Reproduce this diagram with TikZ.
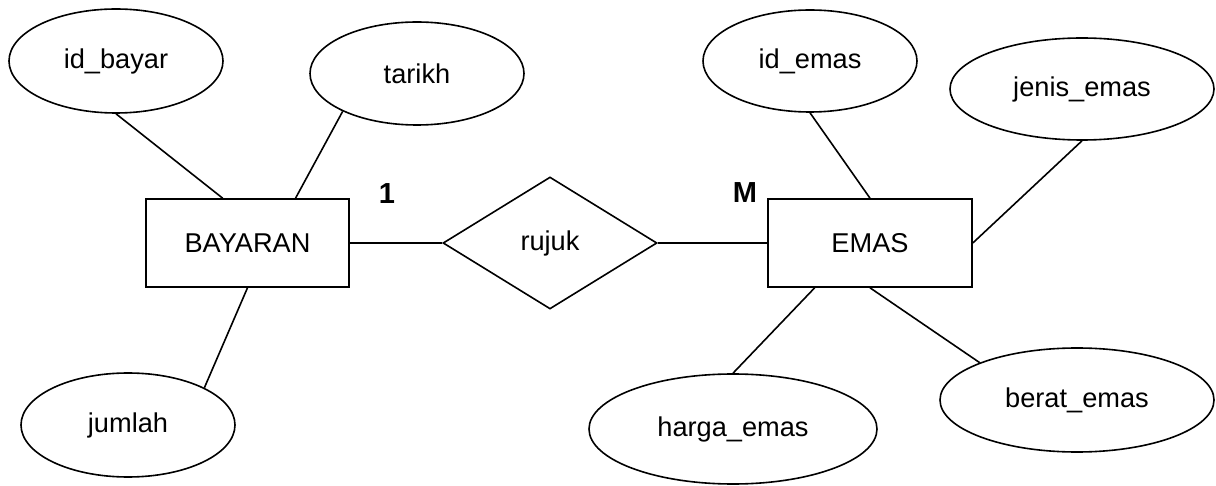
\documentclass[tikz,border=0pt]{standalone}
\usepackage{fontspec}
\setmainfont{Liberation Sans}
\usetikzlibrary{positioning,shapes.geometric}

\tikzset{
	entity/.style={draw, rectangle, line width=0.8pt, minimum width=101.5pt, minimum height=44pt, inner sep=0pt},
	attr/.style={draw, ellipse, line width=0.8pt, inner sep=0pt},
	rel/.style={draw, diamond, line width=0.8pt, minimum width=107pt, minimum height=66pt, inner sep=0pt},
	card/.style={font=\fontsize{14.5}{16}\selectfont\bfseries},
	link/.style={line width=0.8pt}
}

\begin{document}
\begin{tikzpicture}[x=0.5pt, y=-0.5pt, font=\fontsize{13.6}{15}\selectfont]
			\useasboundingbox (0,0) rectangle (1216,486);
			% entities and relation
			\node[entity] (bayaran) at (247.5,243) {BAYARAN};
			\node[entity, minimum width=102pt] (emas) at (870,243) {EMAS};
			\node[rel] (rujuk) at (550,243) {rujuk};
			% attributes
			\node[attr, minimum width=107pt, minimum height=52pt] (idbayar) at (116,61) {id\_bayar};
			\node[attr, minimum width=107pt, minimum height=51.5pt] (tarikh) at (417,73.5) {tarikh};
			\node[attr, minimum width=107pt, minimum height=52pt] (jumlah) at (128,425) {jumlah};
			\node[attr, minimum width=107pt, minimum height=51pt] (idemas) at (810,61) {id\_emas};
			\node[attr, minimum width=132pt, minimum height=51pt] (jenis) at (1082,89) {jenis\_emas};
			\node[attr, minimum width=137pt, minimum height=52pt] (berat) at (1077,400) {berat\_emas};
			\node[attr, minimum width=144pt, minimum height=55pt] (harga) at (733,429) {harga\_emas};
			% cardinality
			\node[card] (one) at (387,194) {1};
			\node[card] (many) at (745,193) {M};
			% connectors
			\draw[link] (idbayar.south) -- (bayaran.119);
			\draw[link] (tarikh.207) -- (bayaran.43);
			\draw[link] (jumlah.26) -- (bayaran.south);
			\draw[link] (bayaran.east) -- (rujuk.west);
			\draw[link] (rujuk.east) -- (emas.west);
			\draw[link] (idemas.south) -- (emas.north);
			\draw[link] (jenis.south) -- (emas.east);
			\draw[link] (harga.north) -- (emas.219);
			\draw[link] (berat.159) -- (emas.south);
		\end{tikzpicture}
\end{document}
